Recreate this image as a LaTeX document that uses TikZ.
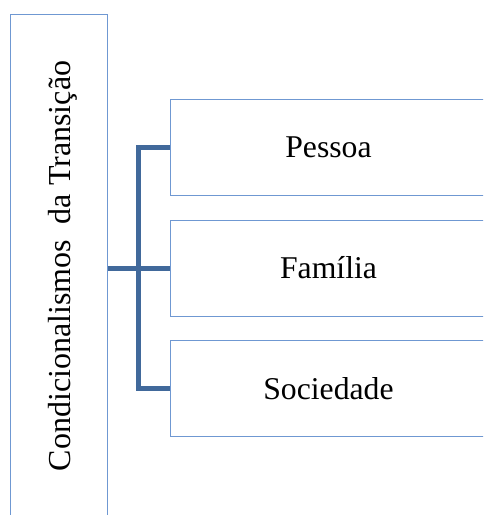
\documentclass[tikz,border=0pt]{standalone}
\usepackage{fontspec}
\setmainfont{Liberation Serif}
\definecolor{boxline}{HTML}{6F98D2}
\definecolor{conn}{HTML}{41699B}
\tikzset{
  itembox/.style={draw=boxline, line width=1pt, minimum width=316pt, minimum height=96pt, inner sep=0pt, font=\fontsize{31.7}{38}\selectfont},
  mainbox/.style={draw=boxline, line width=1pt, minimum width=97pt, minimum height=520pt, inner sep=0pt},
  link/.style={draw=conn, line width=5pt}
}
\begin{document}
\begin{tikzpicture}[x=1pt,y=-1pt]
\useasboundingbox (0,0) rectangle (483,515);
\clip (0,0) rectangle (483,515);
\node[mainbox] (m) at (58.75,274.5) {};
\node[rotate=90, font=\fontsize{32}{38}\selectfont] (mt) at (62.5,266) {Condicionalismos\ \ da Transição};
\node[itembox] (p) at (328.5,147.5) {Pessoa};
\node[itembox] (f) at (328.5,268) {Família};
\node[itembox] (s) at (328.5,388.5) {Sociedade};
\coordinate (j) at (138,268);
\coordinate (jt) at (138,147.5);
\coordinate (jb) at (138,388.5);
\draw[link] (m.east |- j) -- (f.west);
\draw[link] (p.west |- jt) -- (jt) -- (jb) -- (s.west |- jb);
\end{tikzpicture}
\end{document}
